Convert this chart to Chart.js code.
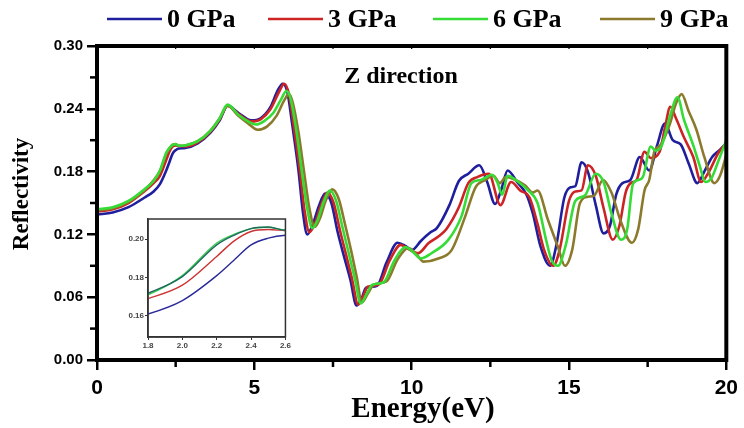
<!DOCTYPE html>
<html>
<head>
<meta charset="utf-8">
<script src="https://cdn.jsdelivr.net/npm/chart.js@4.4.0/dist/chart.umd.min.js"></script>
<style>
  body { margin: 0; background: #fff; }
  #wrap { position: relative; width: 744px; height: 428px; }
  #main { position: absolute; left: 0; top: 0; }
  #inset { position: absolute; left: 120px; top: 212px; }
</style>
</head>
<body>
<div id="wrap">
  <canvas id="main" width="744" height="428"></canvas>
  <canvas id="inset" width="172" height="138"></canvas>
</div>
<script>
// Series labels and tick values
const pressures = ['0 GPa', '3 GPa', '6 GPa', '9 GPa'];
const xTicks = [0, 5, 10, 15, 20];
const yTicks = [0, 0.06, 0.12, 0.18, 0.24, 0.30];
const insetXTicks = [1.8, 2.0, 2.2, 2.4, 2.6];
const insetYTicks = [0.16, 0.18, 0.20];

// 0 GPa
const energy0 = [0, 0.5, 1.0, 1.5, 1.8, 2.0, 2.2, 2.3, 2.4, 2.5, 2.6, 2.8, 3.2, 3.6, 3.9, 4.15, 4.5, 4.9, 5.2, 5.5, 5.75, 5.9, 6.05, 6.2, 6.4, 6.55, 6.68, 6.85, 7.05, 7.25, 7.45, 7.65, 7.85, 8.05, 8.25, 8.4, 8.55, 8.9, 9.2, 9.55, 9.8, 10.0, 10.3, 10.6, 10.8, 11.2, 11.5, 11.8, 12.15, 12.4, 12.65, 12.85, 13.05, 13.35, 13.65, 13.85, 14.1, 14.4, 14.6, 14.85, 15.05, 15.2, 15.4, 15.6, 15.85, 16.1, 16.3, 16.5, 16.7, 16.95, 17.25, 17.55, 17.8, 18.05, 18.3, 18.55, 18.8, 19.08, 19.3, 19.55, 19.8, 20.0];
const refl0 = [0.139, 0.141, 0.146, 0.155, 0.161, 0.168, 0.181, 0.189, 0.197, 0.2005, 0.202, 0.2025, 0.207, 0.217, 0.229, 0.243, 0.236, 0.229, 0.231, 0.241, 0.258, 0.264, 0.256, 0.226, 0.182, 0.140, 0.120, 0.129, 0.147, 0.159, 0.150, 0.122, 0.099, 0.077, 0.052, 0.058, 0.069, 0.071, 0.093, 0.112, 0.109, 0.105, 0.114, 0.122, 0.126, 0.148, 0.171, 0.178, 0.186, 0.170, 0.149, 0.163, 0.181, 0.170, 0.158, 0.140, 0.108, 0.090, 0.110, 0.155, 0.165, 0.166, 0.189, 0.180, 0.148, 0.121, 0.128, 0.158, 0.169, 0.172, 0.194, 0.181, 0.205, 0.226, 0.210, 0.206, 0.188, 0.169, 0.180, 0.194, 0.201, 0.207];

// 3 GPa
const energy3 = [0, 0.5, 1.0, 1.5, 1.8, 2.0, 2.2, 2.3, 2.4, 2.5, 2.6, 2.8, 3.2, 3.6, 3.9, 4.15, 4.5, 4.9, 5.2, 5.5, 5.8, 5.95, 6.1, 6.25, 6.45, 6.6, 6.75, 6.92, 7.12, 7.32, 7.52, 7.72, 7.92, 8.1, 8.3, 8.45, 8.6, 8.95, 9.3, 9.65, 9.9, 10.2, 10.55, 10.85, 11.1, 11.5, 11.8, 12.1, 12.45, 12.82, 13.16, 13.45, 13.75, 14.0, 14.2, 14.5, 14.7, 15.0, 15.2, 15.4, 15.6, 15.85, 16.1, 16.39, 16.6, 16.8, 16.96, 17.15, 17.4, 17.6, 17.88, 18.05, 18.22, 18.4, 18.65, 18.95, 19.2, 19.45, 19.75, 20.0];
const refl3 = [0.142, 0.144, 0.150, 0.161, 0.169, 0.176, 0.191, 0.199, 0.204, 0.205, 0.2044, 0.204, 0.208, 0.218, 0.230, 0.243, 0.235, 0.228, 0.230, 0.239, 0.257, 0.264, 0.254, 0.224, 0.180, 0.142, 0.122, 0.130, 0.148, 0.160, 0.150, 0.124, 0.100, 0.078, 0.053, 0.060, 0.070, 0.072, 0.095, 0.110, 0.106, 0.102, 0.112, 0.118, 0.125, 0.146, 0.169, 0.175, 0.178, 0.148, 0.170, 0.162, 0.155, 0.130, 0.106, 0.090, 0.105, 0.152, 0.161, 0.162, 0.186, 0.176, 0.145, 0.115, 0.128, 0.160, 0.169, 0.172, 0.199, 0.193, 0.199, 0.222, 0.242, 0.231, 0.213, 0.194, 0.170, 0.180, 0.198, 0.207];

// 6 GPa
const energy6 = [0, 0.5, 1.0, 1.5, 1.8, 2.0, 2.2, 2.3, 2.4, 2.5, 2.6, 2.8, 3.2, 3.6, 3.9, 4.15, 4.5, 4.8, 5.05, 5.3, 5.6, 5.85, 6.02, 6.15, 6.32, 6.5, 6.68, 6.84, 7.0, 7.2, 7.4, 7.6, 7.8, 8.0, 8.2, 8.38, 8.55, 8.75, 9.1, 9.45, 9.8, 10.05, 10.28, 10.63, 11.17, 11.58, 11.9, 12.2, 12.55, 12.72, 12.88, 13.05, 13.35, 13.7, 14.0, 14.27, 14.45, 14.65, 14.9, 15.2, 15.5, 15.85, 16.1, 16.35, 16.65, 16.85, 17.03, 17.2, 17.35, 17.6, 17.75, 17.95, 18.2, 18.45, 18.65, 18.95, 19.15, 19.34, 19.55, 19.72, 20.0];
const refl6 = [0.144, 0.146, 0.152, 0.163, 0.171, 0.181, 0.198, 0.2025, 0.2055, 0.2062, 0.2047, 0.205, 0.209, 0.219, 0.231, 0.244, 0.234, 0.228, 0.225, 0.228, 0.236, 0.249, 0.257, 0.250, 0.222, 0.182, 0.145, 0.126, 0.133, 0.151, 0.162, 0.152, 0.127, 0.102, 0.077, 0.054, 0.062, 0.072, 0.074, 0.095, 0.108, 0.103, 0.097, 0.102, 0.115, 0.137, 0.169, 0.172, 0.177, 0.170, 0.158, 0.176, 0.171, 0.162, 0.150, 0.115, 0.095, 0.090, 0.110, 0.152, 0.157, 0.178, 0.170, 0.140, 0.115, 0.125, 0.168, 0.172, 0.175, 0.204, 0.200, 0.205, 0.232, 0.251, 0.230, 0.205, 0.186, 0.170, 0.175, 0.188, 0.210];

// 9 GPa
const energy9 = [0, 0.5, 1.0, 1.5, 1.8, 2.0, 2.2, 2.3, 2.4, 2.5, 2.6, 2.8, 3.2, 3.6, 3.9, 4.15, 4.5, 4.8, 5.1, 5.4, 5.7, 5.95, 6.1, 6.22, 6.4, 6.58, 6.75, 6.92, 7.08, 7.28, 7.48, 7.68, 7.88, 8.08, 8.25, 8.42, 8.6, 8.8, 9.2, 9.55, 9.9, 10.15, 10.38, 10.85, 11.27, 11.7, 12.03, 12.34, 12.6, 12.8, 13.0, 13.3, 13.6, 13.85, 14.0, 14.33, 14.65, 14.87, 15.1, 15.35, 15.6, 15.8, 16.08, 16.35, 16.65, 17.0, 17.2, 17.4, 17.55, 17.72, 17.9, 18.2, 18.4, 18.58, 18.8, 19.05, 19.3, 19.62, 19.8, 20.0];
const refl9 = [0.143, 0.145, 0.151, 0.162, 0.1718, 0.1805, 0.197, 0.202, 0.2055, 0.2063, 0.2047, 0.205, 0.209, 0.219, 0.231, 0.243, 0.233, 0.226, 0.220, 0.223, 0.233, 0.248, 0.254, 0.246, 0.218, 0.180, 0.145, 0.127, 0.135, 0.153, 0.163, 0.154, 0.130, 0.104, 0.080, 0.055, 0.063, 0.072, 0.075, 0.096, 0.107, 0.101, 0.094, 0.097, 0.105, 0.137, 0.165, 0.172, 0.176, 0.169, 0.175, 0.172, 0.167, 0.160, 0.162, 0.134, 0.108, 0.090, 0.105, 0.150, 0.156, 0.157, 0.172, 0.160, 0.132, 0.112, 0.125, 0.162, 0.172, 0.200, 0.205, 0.225, 0.245, 0.254, 0.238, 0.220, 0.194, 0.169, 0.176, 0.196];

const colors = ['#1f1f9e', '#cc2424', '#35dc35', '#8c7a2c'];
const insetColors = ['#2a2a9a', '#cc3333', '#3acc55', '#1f6a5c'];

const toPoints = (xs, ys) => xs.map((x, i) => ({ x: x, y: ys[i] }));
const series = [toPoints(energy0, refl0), toPoints(energy3, refl3), toPoints(energy6, refl6), toPoints(energy9, refl9)];
// green on top, then olive, red, blue
const drawOrder = [3, 2, 0, 1];

const serif = '"Liberation Serif", "Times New Roman", serif';
const sans = '"Liberation Sans", Arial, sans-serif';

const mainDecor = {
    id: 'mainDecor',
    afterDraw(chart) {
        const ctx = chart.ctx;
        const a = chart.chartArea;
        const xs = chart.scales.x, ys = chart.scales.y;
        ctx.save();
        // frame
        ctx.strokeStyle = '#000';
        ctx.lineWidth = 4;
        ctx.strokeRect(a.left, a.top, a.right - a.left, a.bottom - a.top);
        // minor ticks
        ctx.lineWidth = 2.5;
        for (let v = 2.5; v < 20; v += 5) {
            const px = xs.getPixelForValue(v);
            ctx.beginPath(); ctx.moveTo(px, a.bottom); ctx.lineTo(px, a.bottom + 7); ctx.stroke();
        }
        for (let v = 0.03; v < 0.3; v += 0.06) {
            const py = ys.getPixelForValue(v);
            ctx.beginPath(); ctx.moveTo(a.left, py); ctx.lineTo(a.left - 7, py); ctx.stroke();
        }
        ctx.lineWidth = 1.2;
        for (let v = 2.5; v < 20; v += 2.5) {
            const px = xs.getPixelForValue(v);
            ctx.beginPath(); ctx.moveTo(px, a.top); ctx.lineTo(px, a.top + 3); ctx.stroke();
        }
        // texts
        ctx.fillStyle = '#000';
        ctx.textAlign = 'center';
        ctx.textBaseline = 'middle';
        ctx.font = 'bold 24px ' + serif;
        ctx.fillText('Z direction', 401, 77);
        ctx.font = 'bold 29px ' + serif;
        ctx.fillText('Energy(eV)', 423, 410);
        ctx.save();
        ctx.translate(22, 194);
        ctx.rotate(-Math.PI / 2);
        ctx.font = 'bold 23px ' + serif;
        ctx.fillText('Reflectivity', 0, 0);
        ctx.restore();
        // legend
        const legendX = [107, 268, 433, 600];
        ctx.textAlign = 'left';
        ctx.font = 'bold 26px ' + serif;
        pressures.forEach((label, i) => {
            ctx.strokeStyle = colors[i];
            ctx.lineWidth = 2.5;
            ctx.beginPath(); ctx.moveTo(legendX[i], 19); ctx.lineTo(legendX[i] + 55, 19); ctx.stroke();
            ctx.fillStyle = '#000';
            ctx.fillText(label, legendX[i] + 60, 20);
        });
        ctx.restore();
    }
};

new Chart(document.getElementById('main'), {
    type: 'line',
    data: {
        datasets: series.map((pts, i) => ({
            label: pressures[i],
            data: pts,
            borderColor: colors[i],
            borderWidth: 2.6,
            pointRadius: 0,
            fill: false,
            cubicInterpolationMode: 'monotone',
            order: drawOrder[i]
        }))
    },
    options: {
        responsive: false,
        animation: false,
        devicePixelRatio: 1,
        layout: { padding: { top: 46, right: 15, left: 0, bottom: 0 } },
        plugins: { legend: { display: false }, tooltip: { enabled: false } },
        scales: {
            x: {
                type: 'linear', min: 0, max: 20,
                afterBuildTicks: s => { s.ticks = xTicks.map(v => ({ value: v })); },
                afterFit: s => { s.height = 68; },
                grid: { drawOnChartArea: false, color: '#000', lineWidth: 2.5, tickLength: 10 },
                border: { display: true, color: '#000', width: 4 },
                ticks: { color: '#000', font: { family: sans, size: 21, weight: 'bold' }, padding: 6, maxRotation: 0, callback: v => String(v) }
            },
            y: {
                type: 'linear', min: 0, max: 0.30,
                afterBuildTicks: s => { s.ticks = yTicks.map(v => ({ value: v })); },
                afterFit: s => { s.width = 97; },
                grid: { drawOnChartArea: false, color: '#000', lineWidth: 2.5, tickLength: 10 },
                border: { display: true, color: '#000', width: 4 },
                ticks: { color: '#000', font: { family: sans, size: 15, weight: 'bold' }, padding: 4, callback: v => v.toFixed(2) }
            }
        }
    },
    plugins: [mainDecor]
});

const insetFrame = {
    id: 'insetFrame',
    beforeDraw(chart) {
        const a = chart.chartArea;
        chart.ctx.save();
        chart.ctx.fillStyle = '#fff';
        chart.ctx.fillRect(a.left, a.top, a.right - a.left, a.bottom - a.top);
        chart.ctx.restore();
    },
    afterDraw(chart) {
        const ctx = chart.ctx;
        const a = chart.chartArea;
        ctx.save();
        ctx.strokeStyle = '#333';
        ctx.lineWidth = 1.5;
        ctx.strokeRect(a.left, a.top, a.right - a.left, a.bottom - a.top);
        ctx.restore();
    }
};

new Chart(document.getElementById('inset'), {
    type: 'line',
    data: {
        datasets: series.map((pts, i) => ({
            label: pressures[i],
            data: pts,
            borderColor: insetColors[i],
            borderWidth: 1.4,
            pointRadius: 0,
            fill: false,
            cubicInterpolationMode: 'monotone',
            order: [3, 2, 1, 0][i]
        }))
    },
    options: {
        responsive: false,
        animation: false,
        devicePixelRatio: 1,
        layout: { padding: { top: 7, right: 5, left: 0, bottom: 0 } },
        plugins: { legend: { display: false }, tooltip: { enabled: false } },
        scales: {
            x: {
                type: 'linear', min: 1.8, max: 2.6,
                afterBuildTicks: s => { s.ticks = insetXTicks.map(v => ({ value: v })); },
                afterFit: s => { s.height = 13; },
                grid: { drawOnChartArea: false, color: '#333', lineWidth: 1, tickLength: 3 },
                border: { display: true, color: '#333', width: 1.5 },
                ticks: { color: '#444', font: { family: sans, size: 8, weight: 'bold' }, padding: 1, maxRotation: 0, callback: v => v.toFixed(1) }
            },
            y: {
                type: 'linear', min: 0.149, max: 0.2105,
                afterBuildTicks: s => { s.ticks = insetYTicks.map(v => ({ value: v })); },
                afterFit: s => { s.width = 28; },
                grid: { drawOnChartArea: false, color: '#333', lineWidth: 1, tickLength: 3 },
                border: { display: true, color: '#333', width: 1.5 },
                ticks: { color: '#444', font: { family: sans, size: 8, weight: 'bold' }, padding: 1, callback: v => v.toFixed(2) }
            }
        }
    },
    plugins: [insetFrame]
});
</script>
</body>
</html>
